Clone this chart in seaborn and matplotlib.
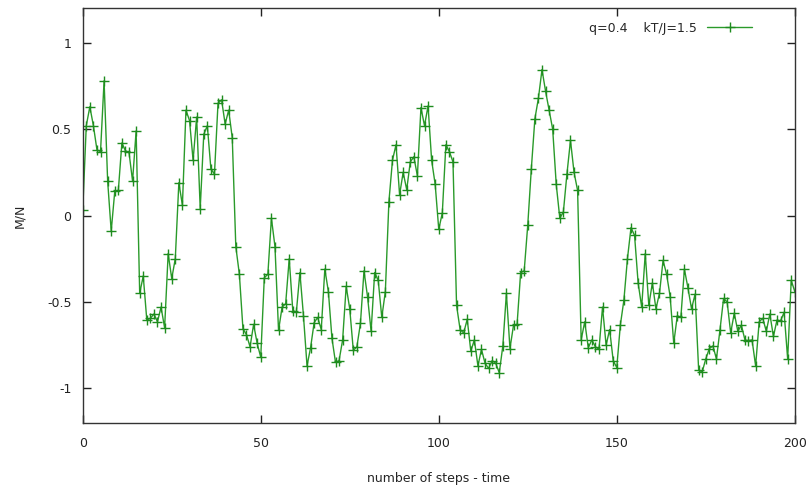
import numpy as np
import pandas as pd
import seaborn as sns
import matplotlib
matplotlib.use("Agg")
import matplotlib.pyplot as plt

# magnetisation per spin, one value per step 0..200
steps = list(range(201))
m_n = [
    0.03, 0.52, 0.63, 0.52, 0.38, 0.37, 0.78, 0.20, -0.09, 0.14,
    0.145, 0.42, 0.375, 0.365, 0.20, 0.49, -0.45, -0.35, -0.605, -0.595,
    -0.57, -0.615, -0.53, -0.65, -0.22, -0.365, -0.25, 0.19, 0.06, 0.61,
    0.55, 0.32, 0.57, 0.04, 0.47, 0.52, 0.27, 0.24, 0.65, 0.67,
    0.53, 0.61, 0.45, -0.18, -0.34, -0.655, -0.69, -0.76, -0.63, -0.74,
    -0.82, -0.36, -0.34, -0.015, -0.18, -0.665, -0.53, -0.51, -0.25, -0.55,
    -0.56, -0.33, -0.58, -0.87, -0.765, -0.62, -0.59, -0.66, -0.31, -0.44,
    -0.71, -0.85, -0.84, -0.72, -0.41, -0.54, -0.78, -0.76, -0.625, -0.32,
    -0.47, -0.67, -0.33, -0.375, -0.59, -0.44, 0.08, 0.32, 0.41, 0.12,
    0.25, 0.15, 0.31, 0.34, 0.23, 0.625, 0.52, 0.635, 0.32, 0.18,
    -0.08, 0.015, 0.41, 0.37, 0.31, -0.52, -0.66, -0.68, -0.60, -0.785,
    -0.72, -0.87, -0.775, -0.855, -0.885, -0.84, -0.855, -0.91, -0.755, -0.45,
    -0.77, -0.635, -0.63, -0.33, -0.32, -0.055, 0.27, 0.56, 0.68, 0.845,
    0.72, 0.61, 0.50, 0.18, -0.015, 0.02, 0.24, 0.435, 0.25, 0.145,
    -0.72, -0.615, -0.765, -0.72, -0.76, -0.775, -0.53, -0.75, -0.66, -0.84,
    -0.88, -0.635, -0.49, -0.25, -0.07, -0.115, -0.39, -0.53, -0.22, -0.52,
    -0.39, -0.54, -0.45, -0.26, -0.34, -0.47, -0.74, -0.58, -0.59, -0.31,
    -0.42, -0.54, -0.455, -0.895, -0.905, -0.83, -0.77, -0.755, -0.83, -0.66,
    -0.48, -0.50, -0.68, -0.565, -0.67, -0.635, -0.72, -0.725, -0.72, -0.87,
    -0.615, -0.595, -0.67, -0.57, -0.70, -0.605, -0.61, -0.56, -0.83, -0.375,
    -0.44,
]
xticks = [0, 50, 100, 150, 200]
yticks = [-1, -0.5, 0, 0.5, 1]
ytick_labels = ["-1", "-0.5", "0", "0.5", "1"]
series_label = "q=0.4    kT/J=1.5"

df = pd.DataFrame({"step": steps, "M/N": m_n})

sns.set_style("ticks")
plt.rcParams['font.family'] = ['DejaVu Sans']

fig = plt.figure(figsize=(8.11, 4.86), dpi=100)
ax = fig.add_axes([0.102, 0.130, 0.878, 0.853])

sns.lineplot(data=df, x="step", y="M/N", ax=ax, color="#2a9a2a",
             linewidth=1.0, marker="+", markersize=7, markeredgewidth=1.0,
             markeredgecolor="#1e8c1e", label=series_label)

ax.set_xlim(0, 200)
ax.set_ylim(-1.2, 1.2)
ax.set_xticks(xticks)
ax.set_yticks(yticks)
ax.set_yticklabels(ytick_labels)
ax.tick_params(direction="in", length=6, width=1, top=True, right=True,
               labelsize=9, colors="#222222")
ax.tick_params(axis="y", pad=8)
ax.tick_params(axis="x", pad=10)
for s in ax.spines.values():
    s.set_color("#333333")
    s.set_linewidth(1.0)

ax.set_xlabel("number of steps - time", fontsize=9, labelpad=16)
ax.set_ylabel("M/N", fontsize=9)
ax.yaxis.set_label_coords(-0.08, 0.5)

leg = ax.legend(loc="upper right", frameon=False, markerfirst=False,
                fontsize=9, handlelength=3.6, borderaxespad=3.0)
# keep legend near the top edge like the reference
leg.set_bbox_to_anchor((1.0, 1.07), transform=ax.transAxes)

plt.savefig("out.png", dpi=100)
